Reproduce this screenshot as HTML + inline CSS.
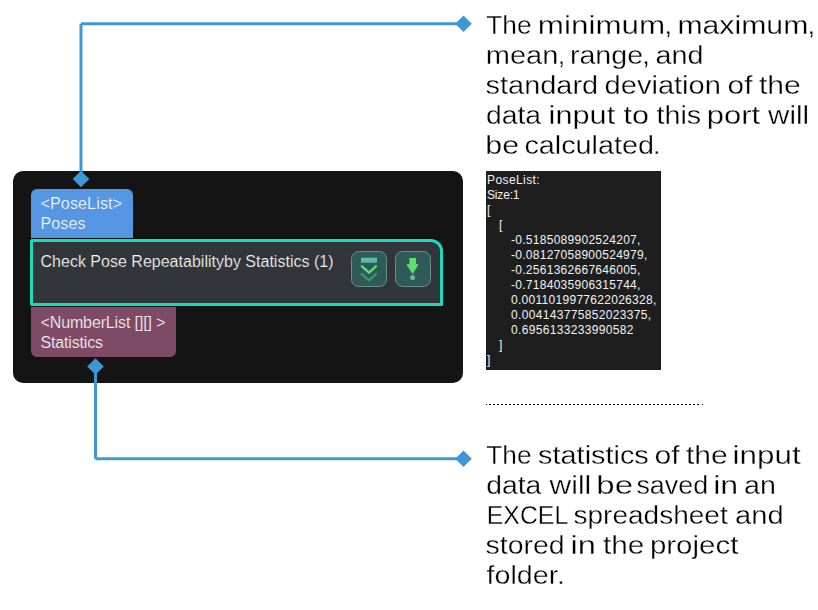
<!DOCTYPE html>
<html><head><meta charset="utf-8">
<style>
html,body{margin:0;padding:0;background:#fff;width:818px;height:610px;overflow:hidden;}
body{position:relative;font-family:"Liberation Sans",sans-serif;}
.abs{position:absolute;box-sizing:border-box;}
#panel{left:13px;top:171px;width:450px;height:212px;background:#141414;border-radius:10px;}
#intab{left:30.5px;top:189px;width:102px;height:49px;background:#5597e3;border-radius:6px 6px 0 0;}
#outtab{left:30.5px;top:307px;width:145.5px;height:49.5px;background:#7e4a66;border-radius:0 0 6px 6px;}
#node{left:29.5px;top:239px;width:413px;height:67px;background:#32363b;border:3px solid #17dcbb;border-radius:2px 12px 1px 2px;}
.btn{top:251px;width:36.2px;height:36px;background:#2e5b58;border:1.6px solid #67908a;border-radius:7.5px;}
#tip{left:486px;top:171px;width:175px;height:199px;background:#1e1e1e;}
#dots{left:489px;top:404px;width:210px;height:1px;background-image:linear-gradient(to right,#000 50%,transparent 50%);background-size:4px 1px;}
.dot{top:404px;width:1.2px;height:1px;background:#000;}
svg{position:absolute;left:0;top:0;}
#ann{will-change:transform;}
</style></head><body>
<div class="abs" id="panel"></div>
<div class="abs" id="intab"></div>
<div class="abs" id="outtab"></div>
<div class="abs" id="node"></div>
<div class="abs btn" style="left:351px"></div>
<div class="abs btn" style="left:394.5px"></div>
<div class="abs" id="tip"></div>
<div class="abs" id="dots"></div>
<div class="abs dot" style="left:486px"></div>
<div class="abs dot" style="left:702px"></div>
<svg width="818" height="610" viewBox="0 0 818 610">
  <!-- connectors -->
  <g fill="none" stroke="#3f97d6" stroke-width="3">
    <path d="M463 23.8H81M81 23.8V179"/>
    <path d="M95.5 366.5V458.8M95.5 458.8H463"/>
  </g>
  <g fill="#3f97d6">
    <polygon points="463.5,15.5 471.8,23.8 463.5,32.1 455.2,23.8"/>
    <polygon points="81,170.8 89.3,179 81,187.3 72.7,179"/>
    <polygon points="95.5,358.2 103.8,366.5 95.5,374.8 87.2,366.5"/>
    <polygon points="463.5,450.5 471.8,458.8 463.5,467.1 455.2,458.8"/>
  </g>
  <!-- icons -->
  <rect x="361" y="257.7" width="16" height="5" fill="#5fb8a8"/>
  <polyline points="361.9,266.3 369.05,272.6 375.9,266.3" fill="none" stroke="#5ee06a" stroke-width="2.4" stroke-linecap="round" stroke-linejoin="round"/>
  <polyline points="361.9,274.1 369.05,280.3 375.9,274.1" fill="none" stroke="#3f9460" stroke-width="2.4" stroke-linecap="round" stroke-linejoin="round"/>
  <rect x="409.4" y="258" width="6.6" height="6.5" fill="#5ee06a"/>
  <polygon points="407,264.6 418.1,264.6 412.6,273.6" fill="#5ee06a" stroke="#5ee06a" stroke-width="0.8" stroke-linejoin="round"/>
  <circle cx="412.6" cy="277.5" r="2.6" fill="#5fb5a6"/>
  <!-- node texts -->
  <g font-family="Liberation Sans" font-size="16" fill="#f6f6f6" stroke-width="0.2">
    <text x="40.5" y="209.3" textLength="81.5" lengthAdjust="spacing" stroke="#5597e3">&lt;PoseList&gt;</text>
    <text x="40.5" y="228.9" textLength="45" lengthAdjust="spacing" stroke="#5597e3">Poses</text>
    <text x="40.5" y="266.5" textLength="293" lengthAdjust="spacing" stroke="#32363b">Check Pose Repeatabilityby Statistics (1)</text>
    <text x="40.5" y="328.1" textLength="125" lengthAdjust="spacing" stroke="#7e4a66">&lt;NumberList [][] &gt;</text>
    <text x="40.5" y="348" textLength="62.5" lengthAdjust="spacing" stroke="#7e4a66">Statistics</text>
  </g>
  <!-- tooltip text -->
  <g font-family="Liberation Sans" font-size="12" fill="#f2f2f2" xml:space="preserve">
    <text x="487" y="184" textLength="52.7" lengthAdjust="spacing">PoseList:</text>
    <text x="487" y="199" textLength="32.5" lengthAdjust="spacing">Size:1</text>
    <text x="487" y="214">[</text>
    <text x="499" y="229">[</text>
    <text x="511" y="244" textLength="129.4" lengthAdjust="spacing">-0.5185089902524207,</text>
    <text x="511" y="259" textLength="136.3" lengthAdjust="spacing">-0.08127058900524979,</text>
    <text x="511" y="274" textLength="129.4" lengthAdjust="spacing">-0.2561362667646005,</text>
    <text x="511" y="289" textLength="129.4" lengthAdjust="spacing">-0.7184035906315744,</text>
    <text x="511" y="304" textLength="145.3" lengthAdjust="spacing">0.0011019977622026328,</text>
    <text x="511" y="319" textLength="140.1" lengthAdjust="spacing">0.004143775852023375,</text>
    <text x="511" y="334" textLength="122.5" lengthAdjust="spacing">0.6956133233990582</text>
    <text x="499" y="349">]</text>
    <text x="487" y="364">]</text>
  </g>
</svg>
<svg id="ann" width="818" height="610" viewBox="0 0 818 610">
  <!-- annotations -->
  <g font-family="Liberation Sans" font-size="25.3" fill="#000" stroke="#fff" stroke-width="0.3">
    <text x="486.3" y="34" textLength="45.3" lengthAdjust="spacingAndGlyphs">The</text>
    <text x="537.8" y="34" textLength="127.4" lengthAdjust="spacingAndGlyphs">minimum</text>
    <text x="664.3" y="34" textLength="8.0" lengthAdjust="spacingAndGlyphs">,</text>
    <text x="677.4" y="34" textLength="130.9" lengthAdjust="spacingAndGlyphs">maximum</text>
    <text x="807.2" y="34" textLength="8.2" lengthAdjust="spacingAndGlyphs">,</text>
    <text x="485.7" y="64" textLength="72.7" lengthAdjust="spacingAndGlyphs">mean</text>
    <text x="557.7" y="64" textLength="7.5" lengthAdjust="spacingAndGlyphs">,</text>
    <text x="569.9" y="64" textLength="73.3" lengthAdjust="spacingAndGlyphs">range</text>
    <text x="642.0" y="64" textLength="8.0" lengthAdjust="spacingAndGlyphs">,</text>
    <text x="655.4" y="64" textLength="48.0" lengthAdjust="spacingAndGlyphs">and</text>
    <text x="485.6" y="94" textLength="112.5" lengthAdjust="spacingAndGlyphs">standard</text>
    <text x="604.6" y="94" textLength="116.3" lengthAdjust="spacingAndGlyphs">deviation</text>
    <text x="727.6" y="94" textLength="24.9" lengthAdjust="spacingAndGlyphs">of</text>
    <text x="759.0" y="94" textLength="41.8" lengthAdjust="spacingAndGlyphs">the</text>
    <text x="485.9" y="124" textLength="55.2" lengthAdjust="spacingAndGlyphs">data</text>
    <text x="548.6" y="124" textLength="66.6" lengthAdjust="spacingAndGlyphs">input</text>
    <text x="623.5" y="124" textLength="25.5" lengthAdjust="spacingAndGlyphs">to</text>
    <text x="656.5" y="124" textLength="44.7" lengthAdjust="spacingAndGlyphs">this</text>
    <text x="706.7" y="124" textLength="53.5" lengthAdjust="spacingAndGlyphs">port</text>
    <text x="768.1" y="124" textLength="41.0" lengthAdjust="spacingAndGlyphs">will</text>
    <text x="485.3" y="154" textLength="33.9" lengthAdjust="spacingAndGlyphs">be</text>
    <text x="524.4" y="154" textLength="129.6" lengthAdjust="spacingAndGlyphs">calculated</text>
    <text x="653.1" y="154" textLength="7.5" lengthAdjust="spacingAndGlyphs">.</text>
    <text x="486.3" y="464" textLength="45.3" lengthAdjust="spacingAndGlyphs">The</text>
    <text x="538.1" y="464" textLength="110.7" lengthAdjust="spacingAndGlyphs">statistics</text>
    <text x="654.4" y="464" textLength="25.2" lengthAdjust="spacingAndGlyphs">of</text>
    <text x="685.9" y="464" textLength="41.7" lengthAdjust="spacingAndGlyphs">the</text>
    <text x="732.6" y="464" textLength="68.0" lengthAdjust="spacingAndGlyphs">input</text>
    <text x="486.2" y="494" textLength="55.1" lengthAdjust="spacingAndGlyphs">data</text>
    <text x="549.6" y="494" textLength="41.7" lengthAdjust="spacingAndGlyphs">will</text>
    <text x="596.3" y="494" textLength="36.7" lengthAdjust="spacingAndGlyphs">be</text>
    <text x="636.4" y="494" textLength="71.7" lengthAdjust="spacingAndGlyphs">saved</text>
    <text x="713.2" y="494" textLength="25.0" lengthAdjust="spacingAndGlyphs">in</text>
    <text x="744.1" y="494" textLength="31.9" lengthAdjust="spacingAndGlyphs">an</text>
    <text x="486.8" y="524" textLength="81.4" lengthAdjust="spacingAndGlyphs">EXCEL</text>
    <text x="573.5" y="524" textLength="154.2" lengthAdjust="spacingAndGlyphs">spreadsheet</text>
    <text x="735.1" y="524" textLength="48.6" lengthAdjust="spacingAndGlyphs">and</text>
    <text x="485.6" y="554" textLength="79.0" lengthAdjust="spacingAndGlyphs">stored</text>
    <text x="570.6" y="554" textLength="25.5" lengthAdjust="spacingAndGlyphs">in</text>
    <text x="603.0" y="554" textLength="41.4" lengthAdjust="spacingAndGlyphs">the</text>
    <text x="649.9" y="554" textLength="88.5" lengthAdjust="spacingAndGlyphs">project</text>
    <text x="486.5" y="584" textLength="71.7" lengthAdjust="spacingAndGlyphs">folder</text>
    <text x="557.1" y="584" textLength="8.0" lengthAdjust="spacingAndGlyphs">.</text>
  </g>
</svg>
</body></html>
